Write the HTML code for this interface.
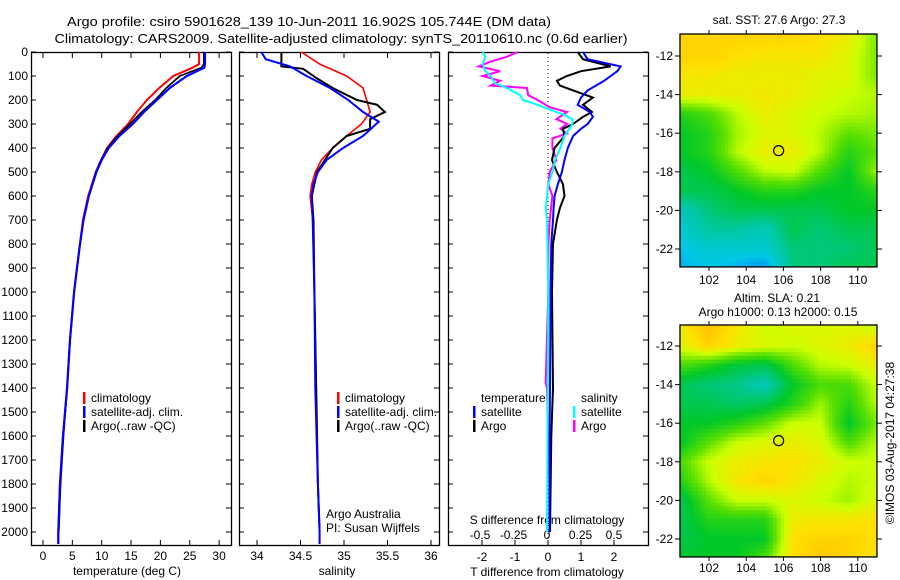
<!DOCTYPE html>
<html><head><meta charset="utf-8"><style>
html,body{margin:0;padding:0;background:#fff}
svg{display:block;font-family:"Liberation Sans",sans-serif}
</style></head><body>
<svg id="fig" width="900" height="580" viewBox="0 0 900 580"></svg>
<script>
// ---------- data ----------
const depthT = [0,50,65,100,150,200,250,300,350,400,450,500,600,700,800,900,1000,1200,1400,1600,1800,2000,2050];
const tempClim = [26.6,26.6,25.5,22.2,19.8,17.7,16.0,14.5,12.5,10.9,9.9,9.0,7.7,6.8,6.3,5.8,5.3,4.6,4.1,3.4,2.9,2.6,2.6];
const tempSat  = [27.6,27.6,27.5,24.5,21.6,19.4,17.2,15.3,13.0,11.2,10.0,9.1,7.8,6.9,6.3,5.8,5.3,4.6,4.1,3.4,2.9,2.6,2.6];
const tempArgo = [27.4,27.4,27.0,23.3,21.0,19.1,16.8,14.8,12.7,11.0,9.9,9.0,7.8,6.9,6.3,5.8,5.3,4.6,4.1,3.5,3.0,2.7];
const depthS = [0,50,100,150,200,250,300,350,400,450,500,550,600,700,1000,1400,1800,2000,2050];
const salClim = [34.51,34.72,35.03,35.22,35.26,35.30,35.20,35.03,34.87,34.74,34.67,34.63,34.61,34.64,34.66,34.68,34.70,34.72,34.72];
const depthSS = [0,30,60,100,150,200,250,290,350,400,450,500,550,600,700,1000,1400,1800,2000,2050];
const salSat  = [34.05,34.10,34.38,34.57,34.84,35.05,35.22,35.40,35.22,34.99,34.80,34.70,34.65,34.63,34.64,34.66,34.67,34.70,34.72,34.72];
const depthSA = [0,60,70,110,150,200,220,250,280,320,350,400,450,500,600,700,1000,1400,1800,2000];
const salArgo = [34.28,34.28,34.53,34.69,34.87,35.15,35.38,35.47,35.30,35.30,35.03,34.87,34.78,34.69,34.63,34.65,34.66,34.68,34.70,34.72];

const depthDT = [0,30,60,80,100,120,140,160,190,220,250,270,300,320,350,400,450,500,550,600,650,700,800,1000,1400,1600,2000];
const dTsat  = [1.06,1.2,2.2,2.1,1.9,1.7,1.45,1.2,1.0,0.9,1.27,1.36,1.2,1.0,0.76,0.6,0.5,0.42,0.3,0.2,0.17,0.15,0.1,0.08,0.06,0.05,0.05];
const dTargo = [0.9,1.06,1.9,1.0,0.57,0.27,0.36,0.76,1.36,1.06,1.33,1.06,0.76,0.45,0.5,0.2,0.12,0.27,0.45,0.5,0.36,0.27,0.15,0.12,0.15,0.1,0.06];
const depthDS = [0,20,50,80,100,130,150,180,200,220,240,260,280,300,350,400,450,500,550,600,650,700,1000,2000];
const dSsat  = [-0.48,-0.46,-0.48,-0.46,-0.42,-0.39,-0.30,-0.20,-0.18,-0.07,0.02,0.12,0.19,0.19,0.13,0.10,0.06,0.04,0.01,0.0,-0.01,0.0,0.01,0.0];
const depthDA = [0,20,40,60,80,100,120,140,150,180,200,230,250,280,300,320,340,360,400,450,500,550,600,700,800,1000,1380,1400,1800,2000];
const dSargo = [-0.22,-0.30,-0.42,-0.51,-0.35,-0.48,-0.35,-0.42,-0.15,-0.14,-0.07,0.02,0.15,0.07,0.15,0.10,0.15,0.04,0.04,0.07,0.02,0.01,0.04,0.02,0.01,0.01,-0.01,0.0,0.02,0.02];

const depthTicks = [0,100,200,300,400,500,600,700,800,900,1000,1100,1200,1300,1400,1500,1600,1700,1800,1900,2000];
const tempTicks = [0,5,10,15,20,25,30];
const salTicks = [34,34.5,35,35.5,36];
const dTTicks = [-2,-1,0,1,2];
const dSTicks = [-0.5,-0.25,0,0.25,0.5];
const latTicks = [-12,-14,-16,-18,-20,-22];
const lonTicks = [102,104,106,108,110];
const argoLon = 105.744, argoLat = -16.902;

// coarse map grids: rows lat -11..-23 (step 1), cols lon 100.5..111 (step 1.5); 0=blue .. 1=orange
const sstGrid = [
[0.85,0.85,0.85,0.85,0.85,0.82,0.78,0.65],
[0.85,0.85,0.82,0.80,0.80,0.80,0.75,0.65],
[0.80,0.80,0.78,0.78,0.78,0.76,0.75,0.65],
[0.78,0.78,0.78,0.80,0.78,0.75,0.72,0.70],
[0.55,0.60,0.70,0.78,0.75,0.72,0.70,0.68],
[0.50,0.55,0.68,0.75,0.75,0.70,0.62,0.65],
[0.50,0.55,0.70,0.78,0.78,0.70,0.55,0.62],
[0.45,0.50,0.60,0.70,0.72,0.60,0.50,0.68],
[0.45,0.45,0.50,0.55,0.55,0.50,0.50,0.55],
[0.30,0.40,0.45,0.45,0.45,0.45,0.50,0.50],
[0.25,0.35,0.35,0.30,0.45,0.40,0.45,0.45],
[0.20,0.25,0.25,0.25,0.40,0.40,0.40,0.45],
[0.15,0.20,0.15,0.10,0.40,0.40,0.45,0.45]];
const slaGrid = [
[0.80,0.90,0.80,0.72,0.75,0.75,0.75,0.72],
[0.75,0.85,0.78,0.75,0.72,0.75,0.78,0.85],
[0.60,0.55,0.48,0.45,0.60,0.70,0.72,0.78],
[0.45,0.40,0.38,0.30,0.50,0.60,0.60,0.72],
[0.45,0.45,0.42,0.45,0.55,0.68,0.55,0.70],
[0.50,0.50,0.55,0.62,0.72,0.72,0.50,0.65],
[0.50,0.62,0.72,0.75,0.78,0.75,0.60,0.70],
[0.60,0.72,0.78,0.80,0.82,0.78,0.72,0.72],
[0.55,0.70,0.80,0.85,0.80,0.75,0.70,0.72],
[0.45,0.62,0.72,0.72,0.75,0.72,0.68,0.75],
[0.45,0.55,0.55,0.55,0.78,0.80,0.80,0.82],
[0.45,0.50,0.50,0.50,0.82,0.85,0.85,0.82],
[0.50,0.50,0.50,0.60,0.82,0.88,0.85,0.80]];

// ---------- helpers ----------
const NS='http://www.w3.org/2000/svg';
const svg=document.getElementById('fig');
function mk(tag,attrs,parent){const e=document.createElementNS(NS,tag);for(const k in attrs)e.setAttribute(k,attrs[k]);(parent||svg).appendChild(e);return e;}
function txt(x,y,s,anchor,size,parent){const t=mk('text',{x:x,y:y,'text-anchor':anchor||'start','font-size':size||12,fill:'#000'},parent);t.textContent=s;return t;}
const ydep=d=>52+d*0.24;
const xT=v=>43+v*5.87;
const xS=v=>257+(v-34)*87;
const xDT=v=>548+v*33;
const xDS=v=>547+v*134;
const PB=545;

function panel(x0,x1,name){
  const r=mk('rect',{x:x0+0.5,y:52.5,width:x1-x0,height:PB-52,fill:'none',stroke:'#000','stroke-width':1.3});
  
  
  depthTicks.forEach(d=>{mk('line',{x1:x0,x2:x0+5,y1:ydep(d),y2:ydep(d),stroke:'#000'});mk('line',{x1:x1-5,x2:x1,y1:ydep(d),y2:ydep(d),stroke:'#000'});});
}
function line(ds,vs,fx,color,w,name){
  const pts=vs.map((v,i)=>fx(v).toFixed(1)+','+ydep(ds[i]).toFixed(1)).join(' ');
  const p=mk('polyline',{points:pts,fill:'none',stroke:color,'stroke-width':w,'stroke-linejoin':'miter'});
  
  
}
function xticks(ticks,fx,labY,fmt){
  ticks.forEach(t=>{const x=fx(t);mk('line',{x1:x,x2:x,y1:PB,y2:PB-5,stroke:'#000'});mk('line',{x1:x,x2:x,y1:53,y2:58,stroke:'#000'});
    const l=txt(x,labY,fmt(t),'middle',12);});
}
function legendEntry(x,y,color,label,name){
  const g=mk('g',{});
  
  
  mk('rect',{x:x,y:y-10,width:2.5,height:12,fill:color},g);
  txt(x+8,y,label,'start',12,g);
}

// ---------- titles ----------
let t1=txt(309,26,'Argo profile: csiro 5901628_139 10-Jun-2011 16.902S 105.744E (DM data)','middle',13);
t1.setAttribute('textLength',484);t1.setAttribute('lengthAdjust','spacingAndGlyphs');

let t2=txt(341,43,'Climatology: CARS2009. Satellite-adjusted climatology: synTS_20110610.nc (0.6d earlier)','middle',13);
t2.setAttribute('textLength',573);t2.setAttribute('lengthAdjust','spacingAndGlyphs');


// ---------- panel 1: temperature ----------
panel(31,231,'temperature-panel');
depthTicks.forEach(d=>{const l=txt(28,ydep(d)+4,String(d),'end',12);});
xticks(tempTicks,xT,560,v=>String(v));
let xl=txt(127,575,'temperature (deg C)','middle',12);
line(depthT,tempClim,xT,'#f00',2,'temp-climatology-line');
line(depthT.slice(0,tempArgo.length),tempArgo,xT,'#000',1.6,'temp-argo-line');
line(depthT,tempSat,xT,'#00f',2.2,'temp-satellite-line');
legendEntry(83,402,'#f00','climatology','legend-climatology');
legendEntry(83,416,'#00f','satellite-adj. clim.','legend-satellite');
legendEntry(83,430,'#000','Argo(..raw -QC)','legend-argo');

// ---------- panel 2: salinity ----------
panel(239,439,'salinity-panel');
xticks(salTicks,xS,560,v=>String(v));
xl=txt(337,575,'salinity','middle',12);
line(depthS,salClim,xS,'#f00',1.6,'sal-climatology-line');
line(depthSA,salArgo,xS,'#000',2,'sal-argo-line');
line(depthSS,salSat,xS,'#00f',2,'sal-satellite-line');
legendEntry(337,402,'#f00','climatology','legend-sal-climatology');
legendEntry(337,416,'#00f','satellite-adj. clim.','legend-sal-satellite');
legendEntry(337,430,'#000','Argo(..raw -QC)','legend-sal-argo');
let cr=txt(326,518,'Argo Australia','start',12);
cr=txt(326,532,'PI: Susan Wijffels','start',12);

// ---------- panel 3: differences ----------
panel(448,648,'difference-panel');
mk('line',{x1:548,x2:548,y1:53,y2:PB,stroke:'#000','stroke-dasharray':'1,3'});
dTTicks.forEach(t=>{const x=xDT(t);mk('line',{x1:x,x2:x,y1:PB,y2:PB-5,stroke:'#000'});const l=txt(x,561,String(t),'middle',12);});
dSTicks.forEach(t=>{const x=xDS(t);const l=txt(x,539,String(t),'middle',12);});
xl=txt(547,576,'T difference from climatology','middle',12);
xl=txt(547,524,'S difference from climatology','middle',12);
line(depthDA,dSargo,xDS,'#f0f',2,'s-diff-argo-line');
line(depthDT,dTargo,xDT,'#000',2,'t-diff-argo-line');
line(depthDT,dTsat,xDT,'#00f',2,'t-diff-satellite-line');
line(depthDS,dSsat,xDS,'#0ff',2,'s-diff-satellite-line');
let lt=txt(481,402,'temperature','start',12);
lt=txt(581,402,'salinity','start',12);
legendEntry(473,416,'#00f','satellite','legend-t-satellite');
legendEntry(473,430,'#000','Argo','legend-t-argo');
legendEntry(573,416,'#0ff','satellite','legend-s-satellite');
legendEntry(573,430,'#f0f','Argo','legend-s-argo');

// ---------- maps ----------
const stops=[[0,[0,80,255]],[0.2,[0,200,230]],[0.35,[0,200,160]],[0.5,[0,200,40]],[0.62,[90,224,0]],[0.72,[204,255,0]],[0.82,[255,224,0]],[1,[255,150,0]]];
function cmap(v){v=Math.max(0,Math.min(1,v));for(let i=1;i<stops.length;i++){if(v<=stops[i][0]){const a=stops[i-1],b=stops[i],f=(v-a[0])/(b[0]-a[0]);return 'rgb('+a[1].map((c,k)=>Math.round(c+(b[1][k]-c)*f)).join(',')+')';}}return 'rgb(255,150,0)';}
function sample(grid,lon,lat){
  let c=(lon-100.5)/1.5, r=(-11-lat);
  c=Math.max(0,Math.min(6.999,c)); r=Math.max(0,Math.min(11.999,r));
  const c0=Math.floor(c),r0=Math.floor(r),fc=c-c0,fr=r-r0;
  return grid[r0][c0]*(1-fc)*(1-fr)+grid[r0][c0+1]*fc*(1-fr)+grid[r0+1][c0]*(1-fc)*fr+grid[r0+1][c0+1]*fc*fr;
}
const defs=mk('defs',{});
function drawMap(grid,top,lat12y,name,lonLabY,cid){
  const xL=lon=>709+(lon-102)*18.6;
  const yL=lat=>lat12y+(-12-lat)*19.3;
  const lon0=100.44,lon1=111.03,lat0=-12+(lat12y-top)/19.3,lat1=-22.93;
  const cp=mk('clipPath',{id:cid},defs);
  mk('rect',{x:xL(lon0),y:top,width:xL(lon1)-xL(lon0),height:yL(lat1)-top},cp);
  const g=mk('g',{});
  
  
  const cells=mk('g',{'clip-path':'url(#'+cid+')'},g);
  const step=0.2;
  for(let lat=lat0;lat>lat1;lat-=step){
    for(let lon=lon0;lon<lon1;lon+=step){
      const x=xL(lon),y=yL(lat);
      mk('rect',{x:x.toFixed(2),y:y.toFixed(2),width:(step*18.6+0.4).toFixed(2),height:(step*19.3+0.4).toFixed(2),fill:cmap(sample(grid,lon+step/2,lat-step/2))},cells);
    }
  }
  mk('rect',{x:xL(lon0),y:top,width:xL(lon1)-xL(lon0),height:yL(lat1)-top,fill:'none',stroke:'#000','stroke-width':1.3},g);
  latTicks.forEach(l=>{const y=yL(l);mk('line',{x1:xL(lon0)-5,x2:xL(lon0),y1:y,y2:y,stroke:'#000'},g);mk('line',{x1:xL(lon1),x2:xL(lon1)+5,y1:y,y2:y,stroke:'#000'},g);
    const t=txt(673,y+4,String(l),'end',12,g);});
  lonTicks.forEach(l=>{const x=xL(l);mk('line',{x1:x,x2:x,y1:top-4,y2:top,stroke:'#000'},g);mk('line',{x1:x,x2:x,y1:yL(lat1),y2:yL(lat1)+4,stroke:'#000'},g);
    const t=txt(x,lonLabY,String(l),'middle',12,g);});
  const m=mk('circle',{cx:xL(argoLon),cy:yL(argoLat),r:5,fill:'none',stroke:'#000','stroke-width':1.2},g);
  
  
}
drawMap(sstGrid,34,56,'sst-map',284,'clipSst');
drawMap(slaGrid,325,346,'sla-map',572,'clipSla');
let mt=txt(779,24,'sat. SST: 27.6 Argo: 27.3','middle',12);
mt=txt(777,302,'Altim. SLA: 0.21','middle',12);
mt=txt(778,316,'Argo h1000: 0.13 h2000: 0.15','middle',12);
let ts=txt(0,0,'©IMOS 03-Aug-2017 04:27:38','middle',12);
ts.setAttribute('transform','translate(894,443) rotate(-90)');

</script>
</body></html>
